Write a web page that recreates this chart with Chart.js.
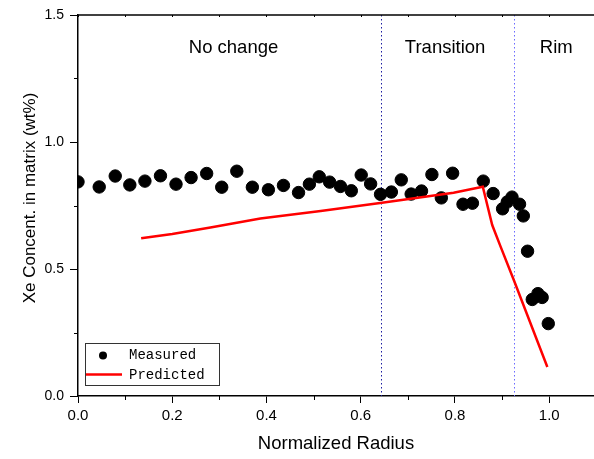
<!DOCTYPE html>
<html>
<head>
<meta charset="utf-8">
<script src="https://cdn.jsdelivr.net/npm/chart.js@4/dist/chart.umd.min.js"></script>
<style>
  html, body { margin: 0; padding: 0; background: #fff; }
  #wrap { width: 594px; height: 459px; position: relative; }
</style>
</head>
<body>
<div id="wrap"><canvas id="myChart" width="594" height="459"></canvas></div>
<script>
/* datos */
const measuredX = [0.0, 0.045, 0.079, 0.110, 0.142, 0.175, 0.208, 0.240, 0.273, 0.305, 0.337, 0.370, 0.404, 0.436, 0.468, 0.491, 0.512, 0.534, 0.557, 0.580, 0.601, 0.621, 0.642, 0.665, 0.686, 0.707, 0.729, 0.751, 0.771, 0.795, 0.817, 0.837, 0.860, 0.881, 0.901, 0.911, 0.921, 0.937, 0.945, 0.954, 0.964, 0.976, 0.985, 0.998];
const measuredY = [0.843, 0.823, 0.866, 0.831, 0.846, 0.867, 0.834, 0.860, 0.876, 0.822, 0.885, 0.822, 0.812, 0.829, 0.801, 0.834, 0.863, 0.842, 0.825, 0.808, 0.870, 0.835, 0.794, 0.803, 0.851, 0.795, 0.807, 0.872, 0.780, 0.877, 0.755, 0.759, 0.846, 0.797, 0.737, 0.764, 0.783, 0.755, 0.709, 0.570, 0.380, 0.403, 0.388, 0.285];

const predictedX = [0.134, 0.200, 0.281, 0.387, 0.515, 0.645, 0.797, 0.859, 0.879, 0.897, 0.925, 0.996];
const predictedY = [0.621, 0.638, 0.663, 0.699, 0.728, 0.761, 0.800, 0.824, 0.673, 0.587, 0.456, 0.114];

const xMajor = [0.0, 0.2, 0.4, 0.6, 0.8, 1.0];
const xMinor = [0.1, 0.3, 0.5, 0.7, 0.9];
const yMajor = [0.0, 0.5, 1.0, 1.5];
const yMinor = [0.25, 0.75, 1.25];

const boundaries = [0.644, 0.926];
const regionLabels = ['No change', 'Transition', 'Rim'];
const regionX = [0.33, 0.779, 1.015];
const regionY = 1.37;
const yTitle = 'Xe Concent. in matrix (wt%)';

const toPoints = (xs, ys) => xs.map((x, i) => ({ x: x, y: ys[i] }));

/* plugin: ticks menores, borde superior, lineas punteadas, textos y leyenda */
const extras = {
  id: 'extras',
  beforeDatasetsDraw(chart) {
    const ctx = chart.ctx;
    const xs = chart.scales.x, ys = chart.scales.y;
    const area = chart.chartArea;
    ctx.save();
    // lineas punteadas
    const colors = ['#1a1aa0', '#6a6aff'];
    boundaries.forEach((b, i) => {
      const px = Math.round(xs.getPixelForValue(b)) + 0.5;
      ctx.strokeStyle = colors[i];
      ctx.lineWidth = 1;
      ctx.setLineDash([1.5, 2.5]);
      ctx.beginPath();
      ctx.moveTo(px, area.top);
      ctx.lineTo(px, area.bottom);
      ctx.stroke();
    });
    ctx.setLineDash([]);
    // textos de regiones
    ctx.fillStyle = '#000';
    ctx.font = '18.5px "Liberation Sans", Arial, sans-serif';
    ctx.textAlign = 'center';
    ctx.textBaseline = 'middle';
    regionLabels.forEach((t, i) => {
      ctx.fillText(t, xs.getPixelForValue(regionX[i]), ys.getPixelForValue(regionY));
    });
    // titulo eje y
    ctx.translate(30, 198);
    ctx.rotate(-Math.PI / 2);
    ctx.font = '17px "Liberation Sans", Arial, sans-serif';
    ctx.fillText(yTitle, 0, 0);
    ctx.restore();
  },
  afterDraw(chart) {
    const ctx = chart.ctx;
    const xs = chart.scales.x, ys = chart.scales.y;
    const area = chart.chartArea;
    ctx.save();
    ctx.strokeStyle = '#000';
    ctx.lineWidth = 1.5;
    // borde superior
    ctx.beginPath();
    ctx.moveTo(area.left, area.top);
    ctx.lineTo(area.right, area.top);
    ctx.stroke();
    ctx.lineWidth = 1;
    // ticks menores eje x
    xMinor.forEach(v => {
      const px = Math.round(xs.getPixelForValue(v)) + 0.5;
      ctx.beginPath();
      ctx.moveTo(px, area.bottom);
      ctx.lineTo(px, area.bottom + 4);
      ctx.stroke();
    });
    // ticks menores eje y
    yMinor.forEach(v => {
      const py = Math.round(ys.getPixelForValue(v)) + 0.5;
      ctx.beginPath();
      ctx.moveTo(area.left, py);
      ctx.lineTo(area.left - 4, py);
      ctx.stroke();
    });
    // ticks arriba
    xMajor.concat(xMinor).forEach(v => {
      const px = Math.round(xs.getPixelForValue(v)) + 0.5;
      ctx.beginPath();
      ctx.moveTo(px, area.top);
      ctx.lineTo(px, area.top + 2);
      ctx.stroke();
    });

    // leyenda
    const bx = 85, by = 343, bw = 134, bh = 42;
    ctx.fillStyle = '#fff';
    ctx.fillRect(bx, by, bw, bh);
    ctx.strokeStyle = '#333';
    ctx.lineWidth = 1;
    ctx.strokeRect(bx + 0.5, by + 0.5, bw, bh);
    const ds = chart.data.datasets;
    ctx.fillStyle = '#000';
    ctx.beginPath();
    ctx.arc(103, 355.5, 4, 0, Math.PI * 2);
    ctx.fill();
    ctx.strokeStyle = ds[1].borderColor;
    ctx.lineWidth = 2.5;
    ctx.beginPath();
    ctx.moveTo(86, 374.5);
    ctx.lineTo(122, 374.5);
    ctx.stroke();
    ctx.fillStyle = '#000';
    ctx.font = '14px "Liberation Mono", monospace';
    ctx.textAlign = 'left';
    ctx.textBaseline = 'middle';
    ctx.fillText(ds[0].label, 129, 355.5);
    ctx.fillText(ds[1].label, 129, 375);
    ctx.restore();
  }
};

const ctx = document.getElementById('myChart');

const config = {
  type: 'scatter',
  data: {
    datasets: [{
      label: 'Measured',
      data: toPoints(measuredX, measuredY),
      backgroundColor: '#000',
      borderColor: '#000',
      pointRadius: 6.2,
      pointHoverRadius: 6.2,
      order: 2
    }, {
      label: 'Predicted',
      data: toPoints(predictedX, predictedY),
      showLine: true,
      borderColor: '#ff0000',
      backgroundColor: '#ff0000',
      borderWidth: 2.5,
      pointRadius: 0,
      tension: 0,
      order: 1
    }]
  },
  options: {
    responsive: false,
    animation: false,
    layout: { autoPadding: false, padding: { top: 15, right: 0, left: 26, bottom: 4 } },
    plugins: {
      legend: { display: false },
      tooltip: { enabled: false }
    },
    scales: {
      x: {
        type: 'linear',
        min: 0,
        max: 1.095,
        afterBuildTicks: s => { s.ticks = xMajor.map(v => ({ value: v })); },
        afterFit: s => { s.height = 59; },
        grid: { drawOnChartArea: false, drawTicks: true, tickLength: 7, color: '#000', lineWidth: 1 },
        border: { display: true, color: '#000', width: 1.5 },
        ticks: {
          color: '#000',
          padding: 4,
          maxRotation: 0,
          font: { family: '"Liberation Sans", Arial, sans-serif', size: 15 },
          callback: v => v.toFixed(1)
        },
        title: {
          display: true,
          text: 'Normalized Radius',
          color: '#000',
          font: { family: '"Liberation Sans", Arial, sans-serif', size: 18.5 },
          padding: { top: 4, bottom: 0 }
        }
      },
      y: {
        type: 'linear',
        min: 0,
        max: 1.5,
        afterBuildTicks: s => { s.ticks = yMajor.map(v => ({ value: v })); },
        afterFit: s => { s.width = 52; },
        grid: { drawOnChartArea: false, drawTicks: true, tickLength: 8, color: '#000', lineWidth: 1 },
        border: { display: true, color: '#000', width: 1.5 },
        ticks: {
          color: '#000',
          padding: 6,
          font: { family: '"Liberation Sans", Arial, sans-serif', size: 14 },
          callback: v => v.toFixed(1)
        },
        title: { display: false }
      }
    }
  },
  plugins: [extras]
};

const chart = new Chart(ctx, config);
</script>
</body>
</html>
